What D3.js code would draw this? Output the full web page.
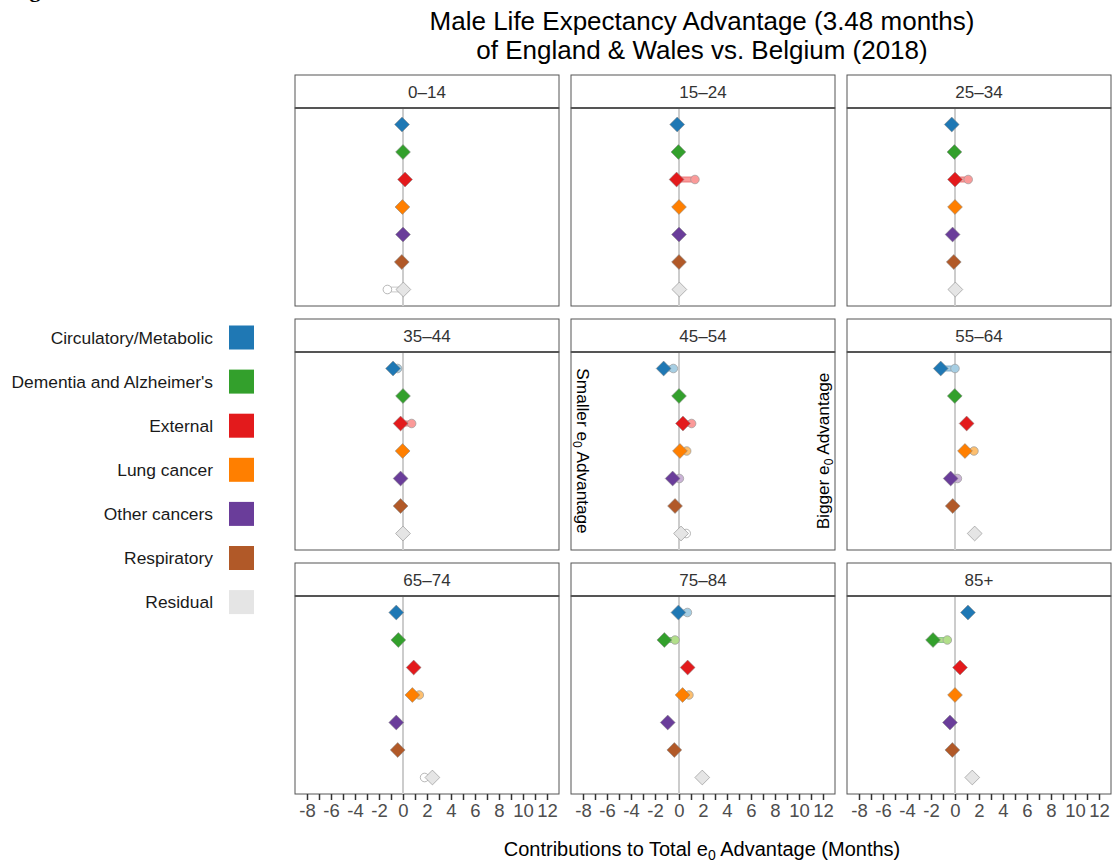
<!DOCTYPE html>
<html><head><meta charset="utf-8">
<script src="https://cdn.jsdelivr.net/npm/d3@7"></script>
<style>
body{margin:0;background:#fff;}
svg{display:block;font-family:"Liberation Sans",Arial,Helvetica,sans-serif;}
</style>
</head><body>
<svg id="chart" width="1115" height="863"></svg>
<script>
// ---------------- DATA ----------------
const ageGroups = ["0–14","15–24","25–34","35–44","45–54","55–64","65–74","75–84","85+"];
const causes = ["Circulatory/Metabolic","Dementia and Alzheimer's","External","Lung cancer","Other cancers","Respiratory","Residual"];
const causeColors = ["#1f78b4","#33a02c","#e31a1c","#ff7f00","#6a3d9a","#b15928","#e5e5e5"];
const causeLightColors = ["#a6cee3","#b2df8a","#fb9a99","#fdbf6f","#cab2d6","#dfae8c","#ffffff"];

// Diamonds: contributions (months) by age group, one array per cause
const diamondCirculatory = [-0.08, -0.15, -0.27, -0.83, -1.28, -1.19, -0.56, -0.05, 1.08];
const diamondDementia    = [ 0.00, -0.05, -0.05,  0.00,  0.00, -0.02, -0.39, -1.22, -1.83];
const diamondExternal    = [ 0.17, -0.20,  0.00, -0.20,  0.33,  0.97,  0.89,  0.72,  0.42];
const diamondLung        = [-0.05,  0.00,  0.00, -0.03,  0.08,  0.83,  0.78,  0.30,  0.00];
const diamondOther       = [ 0.00,  0.00, -0.20, -0.20, -0.53, -0.36, -0.56, -0.94, -0.42];
const diamondRespiratory = [-0.10,  0.00, -0.10, -0.20, -0.33, -0.19, -0.44, -0.39, -0.22];
const diamondResidual    = [ 0.03,  0.03,  0.03,  0.00,  0.17,  1.64,  2.45,  1.94,  1.44];

// Circles: comparison contributions (months) by age group, one array per cause
const circleCirculatory = [-0.08, -0.15, -0.27, -0.45, -0.47,  0.00, -0.56,  0.70,  1.08];
const circleDementia    = [ 0.00, -0.05, -0.05,  0.00,  0.00, -0.02, -0.39, -0.33, -0.64];
const circleExternal    = [ 0.17,  1.33,  1.10,  0.72,  1.05,  0.97,  0.89,  0.72,  0.42];
const circleLung        = [-0.05,  0.00,  0.00, -0.03,  0.64,  1.58,  1.36,  0.83,  0.00];
const circleOther       = [ 0.00,  0.00, -0.20, -0.20,  0.03,  0.20, -0.56, -0.94, -0.42];
const circleRespiratory = [-0.10,  0.00, -0.10, -0.20, -0.33, -0.19, -0.44, -0.39, -0.22];
const circleResidual    = [-1.30,  0.03,  0.03,  0.00,  0.60,  1.64,  1.80,  1.94,  1.44];

const xTickValues = [-8,-7,-6,-5,-4,-3,-2,-1,0,1,2,3,4,5,6,7,8,9,10,11,12];
const xTickLabels = ["-8","","-6","","-4","","-2","","0","","2","","4","","6","","8","","10","","12"];

const titleLines = ["Male Life Expectancy Advantage (3.48 months)","of England & Wales vs. Belgium (2018)"];

// ---------------- BUILD ----------------
const diamondSeries = [diamondCirculatory,diamondDementia,diamondExternal,diamondLung,diamondOther,diamondRespiratory,diamondResidual];
const circleSeries  = [circleCirculatory,circleDementia,circleExternal,circleLung,circleOther,circleRespiratory,circleResidual];

const svg = d3.select("#chart");

// layout
const panelLeft = 295, colPitch = 276, panelW = 264;
const panelTop = 75, rowPitch = 244, stripH = 33, plotH = 198;

const x = d3.scaleLinear().domain([-9, 13]).range([0, panelW]);
const y = d3.scalePoint().domain(causes).range([0, plotH]).padding(0.6);
const color = d3.scaleOrdinal().domain(causes).range(causeColors);
const lightColor = d3.scaleOrdinal().domain(causes).range(causeLightColors);

// partial figure caption cut off at top
svg.append("text").attr("x", 10).attr("y", -3)
  .attr("font-family", "Liberation Serif, serif").attr("font-weight", "bold")
  .attr("font-size", 22).attr("fill", "#000").text("Figure");

// title
svg.append("g").selectAll("text").data(titleLines).join("text")
  .attr("x", 702).attr("y", (d,i) => 30 + i*29)
  .attr("text-anchor", "middle").attr("font-size", 26).attr("fill", "#000")
  .text(d => d);

const diamondPath = (h) => `M0,${-h}L${h},0L0,${h}L${-h},0Z`;

ageGroups.forEach((age, ai) => {
  const col = ai % 3, row = Math.floor(ai / 3);
  const gx = panelLeft + col*colPitch;
  const gy = panelTop + row*rowPitch;
  const g = svg.append("g").attr("transform", `translate(${gx},${gy})`);

  // strip
  g.append("rect").attr("x", 0).attr("y", 0).attr("width", panelW).attr("height", stripH)
    .attr("fill", "#fff").attr("stroke", "#555").attr("stroke-width", 1);
  g.append("text").attr("x", panelW/2).attr("y", stripH/2 + 6.5)
    .attr("text-anchor", "middle").attr("font-size", 17).attr("fill", "#333").text(age);

  const p = g.append("g").attr("transform", `translate(0,${stripH})`);
  p.append("rect").attr("width", panelW).attr("height", plotH).attr("fill", "#fff")
    .attr("stroke", "#555").attr("stroke-width", 1);
  p.append("line").attr("x1", 0).attr("x2", panelW).attr("y1", 0).attr("y2", 0)
    .attr("stroke", "#555").attr("stroke-width", 2.2);

  // zero line
  p.append("line").attr("x1", x(0)).attr("x2", x(0)).attr("y1", 1).attr("y2", plotH)
    .attr("stroke", "#cccccc").attr("stroke-width", 2);

  const data = causes.map((c, ci) => ({cause: c, value: diamondSeries[ci][ai], alt: circleSeries[ci][ai]}));

  // connecting segments
  p.selectAll("line.segout").data(data.filter(d => Math.abs(d.alt - d.value) > 0.05)).join("line")
    .attr("class", "segout")
    .attr("x1", d => x(d.value)).attr("x2", d => x(d.alt))
    .attr("y1", d => y(d.cause)).attr("y2", d => y(d.cause))
    .attr("stroke", d => d.cause === "Residual" ? "#b0b0b0" : color(d.cause))
    .attr("stroke-opacity", 0.55).attr("stroke-width", 6);
  p.selectAll("line.segin").data(data.filter(d => Math.abs(d.alt - d.value) > 0.05)).join("line")
    .attr("class", "segin")
    .attr("x1", d => x(d.value)).attr("x2", d => x(d.alt))
    .attr("y1", d => y(d.cause)).attr("y2", d => y(d.cause))
    .attr("stroke", d => lightColor(d.cause)).attr("stroke-width", 3.5);

  // circles
  p.selectAll("circle.alt").data(data).join("circle")
    .attr("class", "alt")
    .attr("cx", d => x(d.alt)).attr("cy", d => y(d.cause)).attr("r", 4.3)
    .attr("fill", d => lightColor(d.cause))
    .attr("stroke", "#9a9a9a").attr("stroke-width", 0.7);

  // diamonds
  p.selectAll("path.dia").data(data).join("path")
    .attr("class", "dia")
    .attr("transform", d => `translate(${x(d.value)},${y(d.cause)})`)
    .attr("d", diamondPath(7.4))
    .attr("fill", d => color(d.cause))
    .attr("stroke", "#8a8a8a").attr("stroke-width", 0.6);

  // bottom axis for bottom row
  if (row === 2) {
    const ax = p.append("g").attr("transform", `translate(0,${plotH})`)
      .call(d3.axisBottom(x).tickValues(xTickValues).tickSize(6).tickPadding(4)
        .tickFormat((d,i) => xTickLabels[i]));
    ax.select(".domain").remove();
    ax.selectAll(".tick line").attr("stroke", "#333").attr("stroke-width", 1.5);
    ax.selectAll(".tick text").attr("font-size", 18.5).attr("fill", "#4d4d4d")
      .attr("font-family", "Liberation Sans, Arial, sans-serif");
  }

  // annotations in 45–54 panel
  if (age === "45–54") {
    const t1 = p.append("text")
      .attr("transform", `translate(${6},${plotH/2}) rotate(90)`)
      .attr("text-anchor", "middle").attr("font-size", 17.2).attr("fill", "#000");
    t1.append("tspan").text("Smaller e");
    t1.append("tspan").attr("font-size", 12).attr("dy", 4).text("0");
    t1.append("tspan").attr("dy", -4).text(" Advantage");

    const t2 = p.append("text")
      .attr("transform", `translate(${panelW - 6.5},${plotH/2}) rotate(-90)`)
      .attr("text-anchor", "middle").attr("font-size", 17.2).attr("fill", "#000");
    t2.append("tspan").text("Bigger e");
    t2.append("tspan").attr("font-size", 12).attr("dy", 4).text("0");
    t2.append("tspan").attr("dy", -4).text(" Advantage");
  }
});

// x axis title
const xt = svg.append("text").attr("x", 702).attr("y", 856)
  .attr("text-anchor", "middle").attr("font-size", 20).attr("fill", "#000");
xt.append("tspan").text("Contributions to Total e");
xt.append("tspan").attr("font-size", 14).attr("dy", 4).text("0");
xt.append("tspan").attr("dy", -4).text(" Advantage (Months)");

// legend
const legend = svg.append("g");
const lg = legend.selectAll("g").data(causes).join("g")
  .attr("transform", (d,i) => `translate(0,${337.5 + i*44.1})`);
lg.append("rect").attr("x", 229).attr("y", -12).attr("width", 25).attr("height", 24)
  .attr("fill", d => color(d));
lg.append("text").attr("x", 213).attr("y", 6).attr("text-anchor", "end")
  .attr("font-size", 17.4).attr("fill", "#1a1a1a").text(d => d);
</script>
</body></html>
